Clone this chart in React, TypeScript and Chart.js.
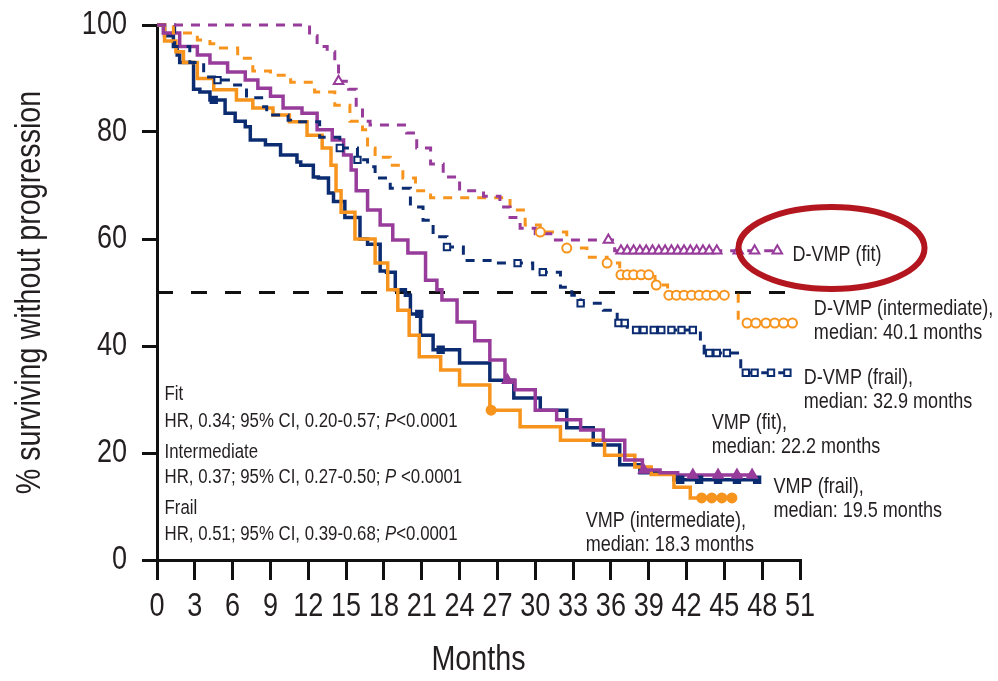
import React, { useEffect, useRef } from "react";
import { Chart, registerables } from "chart.js";

Chart.register(...registerables);

// ---------- DATA ----------
const X_MIN = 0;
const X_MAX = 51;
const X_STEP = 3;
const Y_MIN = 0;
const Y_MAX = 100;
const Y_STEP = 20;
const MEDIAN_LEVEL = 50;
const X_TITLE = "Months";
const Y_TITLE = "% surviving without progression";

// D-VMP (fit) – purple dashed
const dvmpFitT = [0, 12.1, 12.7, 13.5, 14.1, 14.4, 15.2, 15.8, 16.3, 16.9, 19.8, 20.6, 21.7, 22.7, 24.0, 25.9, 27.2, 28.0, 28.8, 30.0, 31.4, 36.3, 49.4];
const dvmpFitS = [100, 98, 96, 95, 93, 89.5, 88, 84.5, 82, 81.3, 79.8, 77, 74, 71.6, 69, 68, 66, 64, 62, 61, 59.8, 57.8, 57.8];
const dvmpFitCensor = [14.4, 35.8, 36.8, 37.3, 37.8, 38.3, 38.8, 39.3, 39.8, 40.3, 40.8, 41.3, 41.8, 42.3, 42.8, 43.3, 43.8, 44.4, 46.1, 47.4, 49.2];

// D-VMP (intermediate) – orange dashed
const dvmpIntT = [0, 1.3, 3.2, 4.2, 4.8, 6.4, 7.6, 9.0, 10.6, 12.5, 14.1, 15.3, 16.3, 16.7, 17.3, 18.5, 19.5, 20.5, 21.7, 28.0, 29.2, 30.4, 32.5, 34.1, 35.7, 36.7, 39.5, 40.5, 46.1, 46.8, 50.8];
const dvmpIntS = [100, 98.5, 97.2, 96.5, 95.7, 93.8, 91.4, 90.6, 89.3, 87.5, 85, 82, 80.4, 77, 75.3, 73.8, 71.4, 69, 67.7, 65.4, 62.6, 61.3, 58.3, 56.6, 55.5, 53.3, 51.4, 49.5, 44.9, 44.3, 44.3];
const dvmpIntCensor = [30.4, 32.5, 35.7, 36.8, 37.3, 37.8, 38.4, 39.0, 39.6, 40.6, 41.2, 41.8, 42.4, 43.0, 43.6, 44.2, 45.0, 46.8, 47.5, 48.3, 49.0, 49.7, 50.4];

// D-VMP (frail) – navy dashed
const dvmpFrailT = [0, 1.4, 2.6, 3.7, 4.8, 5.8, 7.1, 8.3, 8.7, 10.4, 10.6, 12.9, 14.5, 15.9, 16.7, 17.3, 18.5, 20.1, 21.1, 21.9, 23.0, 24.3, 26.7, 29.8, 32.0, 32.9, 33.6, 35.4, 36.5, 37.3, 43.1, 43.4, 46.3, 50.2];
const dvmpFrailS = [100, 96, 93, 90.3, 89.7, 88.8, 86.4, 84.7, 83.2, 82.2, 81.9, 79, 77, 74.8, 73.5, 71.4, 69.5, 66, 63.5, 60.4, 58.5, 56, 55.5, 53.8, 51, 49.5, 48, 46.7, 44.3, 43, 41, 38.7, 35, 35];
const dvmpFrailCensor = [4.8, 14.5, 15.9, 23.0, 28.6, 30.6, 33.6, 36.6, 37.1, 38.0, 38.6, 39.4, 40.0, 40.8, 41.6, 42.5, 43.8, 44.4, 45.2, 46.7, 47.4, 48.7, 50.0];

// VMP (fit) – purple solid
const vmpFitT = [0, 0.5, 1.8, 3.2, 4.2, 5.6, 7.0, 8.0, 9.0, 10.0, 11.5, 12.7, 13.9, 14.8, 15.4, 15.8, 16.7, 17.7, 18.7, 19.9, 21.3, 22.2, 22.6, 23.8, 25.2, 26.4, 27.6, 28.4, 30.0, 31.7, 33.6, 35.4, 37.1, 38.5, 39.9, 41.3, 47.3];
const vmpFitS = [100, 98.5, 96, 94.4, 92.9, 91.2, 89.7, 88.2, 86.7, 84.5, 83.5, 80.4, 78.5, 75.7, 72.9, 69, 65.4, 62.6, 59.8, 57.4, 52.3, 50.5, 48.6, 44.5, 41, 37.4, 33.6, 31.8, 28, 26.2, 24.3, 22.4, 18.7, 16.8, 16.3, 15.9, 15.9];
const vmpFitCensor = [27.8, 38.6, 42.5, 44.5, 46.0, 47.2];

// VMP (intermediate) – orange solid
const vmpIntT = [0, 0.6, 1.5, 2.1, 3.2, 4.5, 6.3, 7.6, 9.2, 10.5, 11.9, 13.1, 13.8, 14.2, 14.6, 15.7, 17.3, 18.3, 19.1, 20.0, 20.8, 22.5, 24.0, 26.4, 28.8, 32.0, 35.5, 37.9, 39.2, 41.0, 42.3, 46.0];
const vmpIntS = [100, 97, 95, 93, 90, 87.9, 86, 84.5, 83.2, 81.9, 79.4, 77, 73.8, 69, 65, 60, 55.5, 50.5, 46.7, 42, 38, 35.5, 32.7, 28, 24.9, 22.4, 19.6, 17.4, 16, 13.6, 11.6, 11.6];
const vmpIntCensor = [26.5, 43.2, 44.0, 44.8, 45.6];

// VMP (frail) – navy solid
const vmpFrailT = [0, 0.6, 1.3, 1.6, 1.8, 2.9, 3.4, 4.2, 5.4, 6.2, 7.0, 7.4, 8.6, 9.8, 11.1, 11.4, 12.4, 12.8, 13.6, 14.0, 14.9, 16.1, 16.7, 17.7, 18.2, 18.9, 19.7, 20.1, 20.9, 21.9, 24.0, 26.4, 28.3, 30.4, 32.5, 34.6, 36.7, 38.3, 41.0, 47.9];
const vmpFrailS = [100, 98, 96, 94.4, 93, 88, 87.5, 86, 83.5, 82, 81, 78.5, 77.6, 75.7, 74.4, 73.8, 71.6, 71.4, 68.6, 67, 64, 60, 59, 54, 53.8, 50.5, 49.5, 46, 42, 39.3, 36.8, 33.6, 30.3, 28, 24.7, 21.5, 17.8, 16.3, 15, 15];
const vmpFrailCensor = [4.5, 20.8, 22.5, 41.5, 43.0, 44.5, 46.0, 47.6];

const curveLabels = [
  { lines: ["D-VMP (fit)"], x: 50.4, y: 57.0 },
  { lines: ["D-VMP (intermediate),", "median: 40.1 months"], x: 52.1, y: 46.9 },
  { lines: ["D-VMP (frail),", "median: 32.9 months"], x: 51.3, y: 34.0 },
  { lines: ["VMP (fit),", "median: 22.2 months"], x: 44.0, y: 25.6 },
  { lines: ["VMP (frail),", "median: 19.5 months"], x: 48.9, y: 13.6 },
  { lines: ["VMP (intermediate),", "median: 18.3 months"], x: 34.0, y: 7.3 },
];

const hrBlock = [
  [["Fit", false]],
  [["HR, 0.34; 95% CI, 0.20-0.57; ", false], ["P", true], ["<0.0001", false]],
  [["Intermediate", false]],
  [["HR, 0.37; 95% CI, 0.27-0.50; ", false], ["P", true], [" <0.0001", false]],
  [["Frail", false]],
  [["HR, 0.51; 95% CI, 0.39-0.68; ", false], ["P", true], ["<0.0001", false]],
];

// ---------- STYLE ----------
const FONT = "'Liberation Sans', Arial, sans-serif";
const NARROW = 0.82; // horizontal compression to mimic a condensed face
const TEXT = "#231f20";
const AXIS = "#111111";
const PURPLE = "#983c9c";
const ORANGE = "#f7941d";
const NAVY = "#0c2c72";

function stepValue(times: number[], surv: number[], t: number) {
  let v = surv[0];
  for (let i = 0; i < times.length; i++) {
    if (times[i] <= t) v = surv[i];
  }
  return v;
}
function curve(times: number[], surv: number[]) {
  return times.map((t, i) => ({ x: t, y: surv[i] }));
}
function marks(times: number[], surv: number[], cens: number[]) {
  return cens.map((t) => ({ x: t, y: stepValue(times, surv, t) }));
}

function lineDS(data: any[], color: string, dashed: boolean, order: number) {
  return {
    type: "line",
    data,
    borderColor: color,
    borderWidth: dashed ? 3 : 3.5,
    borderDash: dashed ? [9, 8] : [],
    stepped: "before",
    pointRadius: 0,
    fill: false,
    clip: false,
    order,
  };
}
function markDS(data: any[], color: string, style: string, filled: boolean, order: number) {
  return {
    type: "line",
    data,
    showLine: false,
    pointStyle: style,
    pointRadius: style === "triangle" ? 5.5 : 4.5,
    pointBorderWidth: 2,
    pointBorderColor: color,
    pointBackgroundColor: filled ? color : "#ffffff",
    clip: false,
    order,
  };
}

function narrowText(
  ctx: CanvasRenderingContext2D,
  text: string,
  x: number,
  y: number,
  size: number,
  align: CanvasTextAlign,
  opts: { italic?: boolean; rotate?: boolean } = {}
) {
  ctx.save();
  ctx.translate(x, y);
  if (opts.rotate) ctx.rotate(-Math.PI / 2);
  ctx.scale(NARROW, 1);
  ctx.font = `${opts.italic ? "italic " : ""}${size}px ${FONT}`;
  ctx.textAlign = align;
  ctx.textBaseline = "middle";
  ctx.fillStyle = TEXT;
  ctx.fillText(text, 0, 0);
  const w = ctx.measureText(text).width * NARROW;
  ctx.restore();
  return w;
}

const textPlugin = {
  id: "texts",
  afterDraw(chart: any) {
    const { ctx, scales, chartArea } = chart;
    const xs = scales.x;
    const ys = scales.y;
    // tick labels
    xs.ticks.forEach((t: any) => {
      narrowText(ctx, String(t.value), xs.getPixelForValue(t.value), chartArea.bottom + 47, 33, "center");
    });
    ys.ticks.forEach((t: any) => {
      narrowText(ctx, String(t.value), chartArea.left - 30, ys.getPixelForValue(t.value), 33, "right");
    });
    // axis titles
    narrowText(ctx, X_TITLE, (chartArea.left + chartArea.right) / 2, chartArea.bottom + 100, 35, "center");
    narrowText(ctx, Y_TITLE, 30, (chartArea.top + chartArea.bottom) / 2, 35, "center", { rotate: true });
    // curve labels
    for (const lab of curveLabels) {
      const px = xs.getPixelForValue(lab.x);
      const py = ys.getPixelForValue(lab.y);
      lab.lines.forEach((line, i) => narrowText(ctx, line, px, py + i * 24, 22, "left"));
    }
    // HR block
    const hx = xs.getPixelForValue(0.6);
    const hy0 = ys.getPixelForValue(31.0);
    const gaps = [0, 27, 58, 83, 114, 140];
    hrBlock.forEach((segs, i) => {
      let x = hx;
      const y = hy0 + gaps[i];
      (segs as any[]).forEach(([txt, ital]) => {
        x += narrowText(ctx, txt, x, y, 20.5, "left", { italic: ital });
      });
    });
    // red ellipse highlight
    const cx = xs.getPixelForValue(53.5);
    const cy = ys.getPixelForValue(58.3);
    ctx.save();
    ctx.strokeStyle = "#b3161e";
    ctx.lineWidth = 6;
    ctx.beginPath();
    ctx.ellipse(cx, cy, 93, 41, 0, 0, Math.PI * 2);
    ctx.stroke();
    ctx.restore();
  },
};

export default function App() {
  const ref = useRef<HTMLCanvasElement | null>(null);
  useEffect(() => {
    if (!ref.current) return;
    const medianLine = [
      { x: X_MIN, y: MEDIAN_LEVEL },
      { x: X_MAX, y: MEDIAN_LEVEL },
    ];
    const chart = new Chart(ref.current, {
      type: "line",
      data: {
        datasets: [
          markDS(marks(dvmpFitT, dvmpFitS, dvmpFitCensor), PURPLE, "triangle", false, 1),
          markDS(marks(dvmpIntT, dvmpIntS, dvmpIntCensor), ORANGE, "circle", false, 2),
          markDS(marks(dvmpFrailT, dvmpFrailS, dvmpFrailCensor), NAVY, "rect", false, 3),
          markDS(marks(vmpFitT, vmpFitS, vmpFitCensor), PURPLE, "triangle", true, 4),
          markDS(marks(vmpIntT, vmpIntS, vmpIntCensor), ORANGE, "circle", true, 5),
          markDS(marks(vmpFrailT, vmpFrailS, vmpFrailCensor), NAVY, "rect", true, 6),
          lineDS(curve(dvmpFitT, dvmpFitS), PURPLE, true, 7),
          lineDS(curve(dvmpIntT, dvmpIntS), ORANGE, true, 8),
          lineDS(curve(dvmpFrailT, dvmpFrailS), NAVY, true, 9),
          lineDS(curve(vmpFitT, vmpFitS), PURPLE, false, 10),
          lineDS(curve(vmpIntT, vmpIntS), ORANGE, false, 11),
          lineDS(curve(vmpFrailT, vmpFrailS), NAVY, false, 12),
          {
            type: "line",
            data: medianLine,
            borderColor: "#111111",
            borderWidth: 3,
            borderDash: [16, 18],
            pointRadius: 0,
            clip: false,
            order: 13,
          },
        ] as any,
      },
      options: {
        responsive: false,
        animation: false,
        devicePixelRatio: 1,
        parsing: false as any,
        layout: { padding: { left: 0, top: 25, right: 198, bottom: 0 } },
        plugins: {
          legend: { display: false },
          tooltip: { enabled: false },
        },
        scales: {
          x: {
            type: "linear",
            min: X_MIN,
            max: X_MAX,
            ticks: { stepSize: X_STEP, autoSkip: false, display: false },
            grid: { drawOnChartArea: false, drawTicks: true, tickLength: 20, color: AXIS, lineWidth: 3 },
            border: { display: true, color: AXIS, width: 3 },
            afterFit: (s: any) => {
              s.height = 121;
            },
          },
          y: {
            type: "linear",
            min: Y_MIN,
            max: Y_MAX,
            ticks: { stepSize: Y_STEP, display: false },
            grid: { drawOnChartArea: false, drawTicks: true, tickLength: 15, color: AXIS, lineWidth: 3 },
            border: { display: true, color: AXIS, width: 3 },
            afterFit: (s: any) => {
              s.width = 157;
            },
          },
        },
      } as any,
      plugins: [textPlugin],
    });
    return () => chart.destroy();
  }, []);
  return (
    <div style={{ position: "fixed", left: 0, top: 0, width: 998, height: 681, background: "#ffffff" }}>
      <canvas ref={ref} width={998} height={681} style={{ display: "block" }} />
    </div>
  );
}
